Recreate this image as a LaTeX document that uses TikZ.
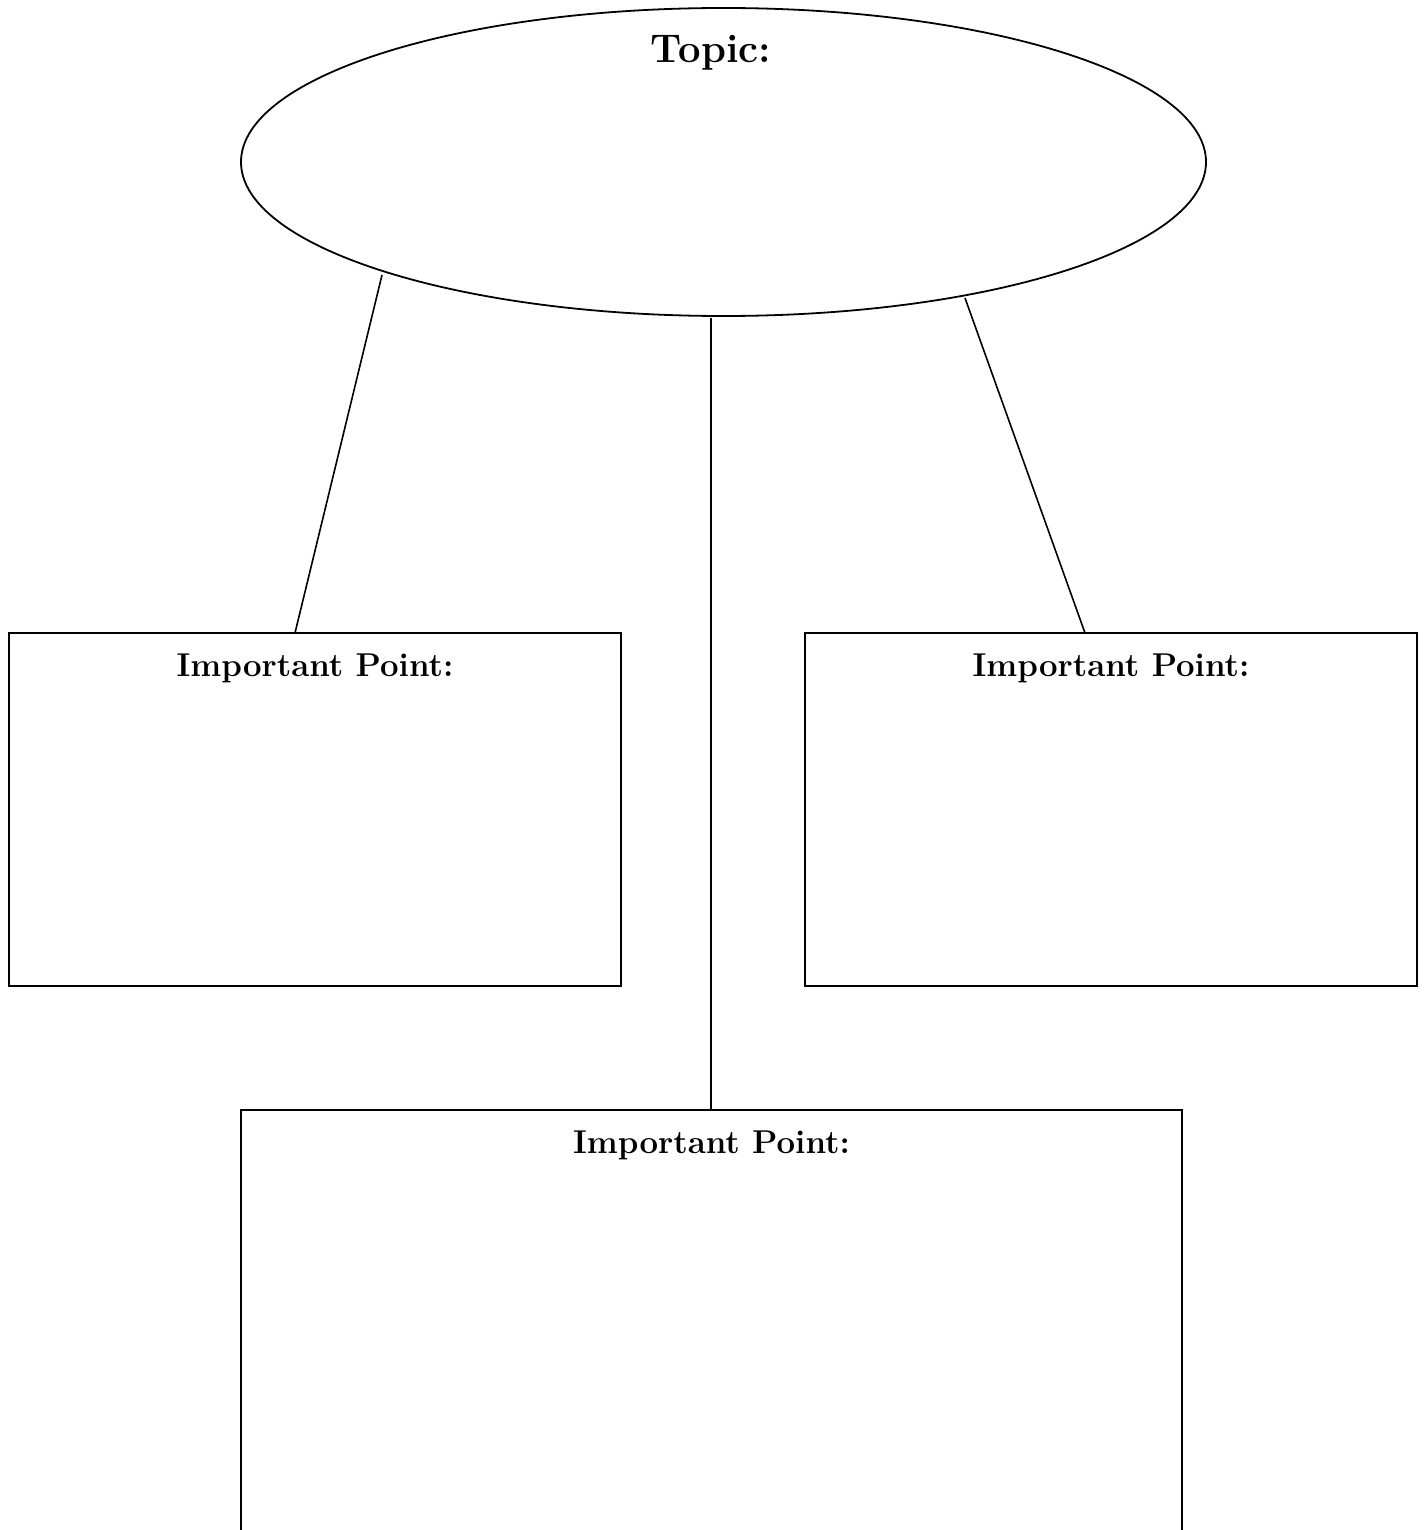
\documentclass[tikz,border=0pt]{standalone}
\usetikzlibrary{shapes.geometric}
\begin{document}
\begin{tikzpicture}[x=0.5pt,y=-0.5pt,
  outline/.style={draw=black,line width=0.9pt},
  topicshape/.style={outline,ellipse,inner sep=0pt,outer sep=0pt,
    minimum width=482.5pt,minimum height=154pt},
  pointbox/.style={outline,rectangle,inner sep=0pt,outer sep=0pt,
    minimum width=306pt,minimum height=176.5pt},
  bigbox/.style={outline,rectangle,inner sep=0pt,outer sep=0pt,
    minimum width=470.5pt,minimum height=225pt},
  heading/.style={anchor=base,font=\fontsize{16.5}{20}\bfseries\selectfont},
  topictext/.style={anchor=base,font=\fontsize{20}{24}\bfseries\selectfont},
  link/.style={draw=black,line width=0.8pt}]
\useasboundingbox (0,0) rectangle (1426,1530);
\clip (0,0) rectangle (1426,1530);

% topic ellipse and its heading
\node[topicshape] (topic) at (723.5,162) {};
\node[topictext] (topictitle) at (711,63) {Topic:};

% the three boxes
\node[pointbox] (left) at (315,809.5) {};
\node[pointbox] (right) at (1111,809.5) {};
\node[bigbox] (bottom) at (711.5,1335) {};

\node[heading] (lefttitle) at ([yshift=-21.5pt]left.north) {Important Point:};
\node[heading] (righttitle) at ([yshift=-21.5pt]right.north) {Important Point:};
\node[heading] (bottomtitle) at ([yshift=-21.5pt]bottom.north) {Important Point:};

% connector ends just below the ellipse
\coordinate (lt) at (382,275);
\coordinate (mt) at (711,318);
\coordinate (rt) at (965,298);
\coordinate (lb) at ([xshift=143pt]left.north west);
\coordinate (rb) at ([xshift=140pt]right.north west);
\coordinate (mb) at (bottom.north -| mt);

\draw[link] (lt) -- (lb);
\draw[link] (mt) -- (mb);
\draw[link] (rt) -- (rb);
\end{tikzpicture}
\end{document}
